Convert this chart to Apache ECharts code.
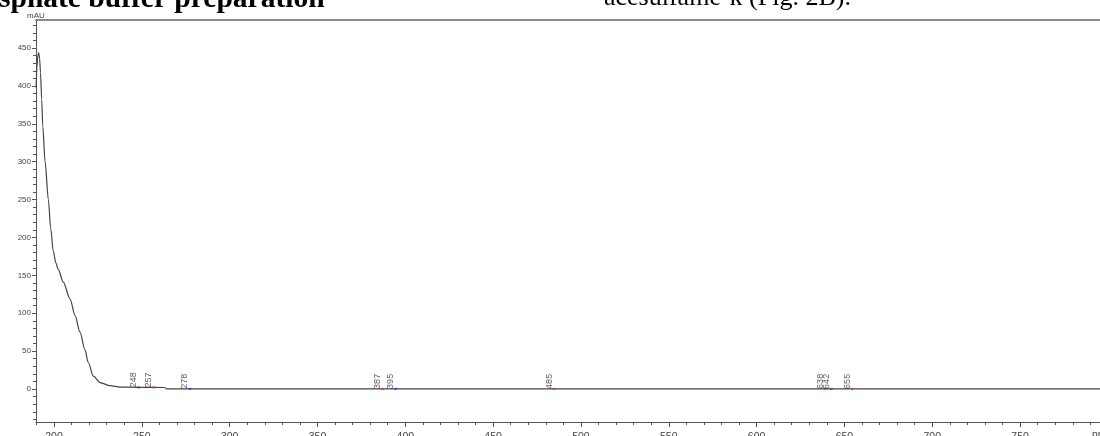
<!DOCTYPE html>
<html>
<head>
<meta charset="utf-8">
<script src="https://cdn.jsdelivr.net/npm/echarts@6/dist/echarts.min.js"></script>
<style>html,body{margin:0;padding:0;background:#fff}#c{width:1100px;height:436px}</style>
</head>
<body>
<div id="c"></div>
<script>
// Spectrum readings (nm, mAU)
const wavelengths = [189.8, 190.3, 190.8, 191.3, 191.8, 192.3, 193.0, 193.6, 194.9, 196.8, 198.1, 199.6, 201.0, 202.4, 205.3, 209.1, 212.0, 214.8, 217.6, 219.5, 222.4, 226.2, 231.9, 237.6, 249.0, 263.0, 264.0, 795.5];
const absorbance  = [398,   425,   440,   444,   436,   418,   382,   347,   300,   250,   212,   182,   167,   158,   141,   119,   97,    75,    52,    35,    17,    8.5,   4.4,   2.6,   2.2,   2.0,   0.3,   0.2];
// Peak markers
const peakWl    = [248.2, 256.9, 277.4, 386.9, 394.5, 484.7, 639.0, 642.5, 654.5];
const peakText  = ['248', '257', '278', '387', '395', '485', '638', '642', '655'];
const peakAbs   = [2.2, 2.1, 0.3, 0.2, 0.2, 0.2, 0.2, 0.2, 0.2];
const peakKind  = ['b', 'r', 'b', 'r', 'b', 'r', 'r', 'b', 'r'];
// Axis ticks
const xMajor = [200, 250, 300, 350, 400, 450, 500, 550, 600, 650, 700, 750];
const xMinor = [190, 200, 210, 220, 230, 240, 250, 260, 270, 280, 290, 300, 310, 320, 330, 340, 350, 360, 370, 380, 390, 400, 410, 420, 430, 440, 450, 460, 470, 480, 490, 500, 510, 520, 530, 540, 550, 560, 570, 580, 590, 600, 610, 620, 630, 640, 650, 660, 670, 680, 690, 700, 710, 720, 730, 740, 750, 760, 770, 780, 790];
const yMajor = [0, 50, 100, 150, 200, 250, 300, 350, 400, 450];
const yMinor = [-40, -30, -20, -10, 0, 10, 20, 30, 40, 50, 60, 70, 80, 90, 100, 110, 120, 130, 140, 150, 160, 170, 180, 190, 200, 210, 220, 230, 240, 250, 260, 270, 280, 290, 300, 310, 320, 330, 340, 350, 360, 370, 380, 390, 400, 410, 420, 430, 440, 450, 460, 470, 480];
const xRange = [189.75, 795.5];
const yRange = [-43.5, 487];

const kindColor = { r: '#e23030', b: '#3040e0' };
const axisColor = '#555';
const font = '"Liberation Sans", Arial, sans-serif';
const serif = '"Liberation Serif", "Times New Roman", serif';

const chart = echarts.init(document.getElementById('c'), null, { renderer: 'canvas' });
chart.setOption({
  animation: false,
  backgroundColor: '#fff',
  grid: { left: 36, right: 0, top: 20, bottom: 14, containLabel: false, outerBoundsMode: 'none' },
  xAxis: [
    { type: 'value', min: xRange[0], max: xRange[1], position: 'bottom',
      axisLine: { show: true, onZero: false, lineStyle: { color: axisColor, width: 1 } },
      axisTick: { show: true, customValues: xMajor, length: 5, lineStyle: { color: axisColor } },
      axisLabel: { show: true, customValues: xMajor, fontSize: 10.5, margin: 10, color: '#444', fontFamily: font },
      splitLine: { show: false } },
    { type: 'value', min: xRange[0], max: xRange[1], position: 'bottom',
      axisLine: { show: false, onZero: false },
      axisTick: { show: true, customValues: xMinor, length: 3, lineStyle: { color: axisColor } },
      axisLabel: { show: false }, splitLine: { show: false } },
    { type: 'value', min: xRange[0], max: xRange[1], position: 'top',
      axisLine: { show: true, onZero: false, lineStyle: { color: '#666', width: 1.5 } },
      axisTick: { show: false }, axisLabel: { show: false }, splitLine: { show: false } }
  ],
  yAxis: [
    { type: 'value', min: yRange[0], max: yRange[1], position: 'left',
      name: 'mAU', nameLocation: 'end', nameGap: 0,
      nameTextStyle: { fontSize: 8, color: '#444', fontFamily: font, align: 'center' },
      axisLine: { show: true, onZero: false, lineStyle: { color: axisColor, width: 1 } },
      axisTick: { show: true, customValues: yMajor, length: 4, lineStyle: { color: axisColor } },
      axisLabel: { show: true, customValues: yMajor, fontSize: 8, margin: 5, color: '#444', fontFamily: font },
      splitLine: { show: false } },
    { type: 'value', min: yRange[0], max: yRange[1], position: 'left',
      axisLine: { show: false, onZero: false },
      axisTick: { show: true, customValues: yMinor, length: 3, lineStyle: { color: axisColor } },
      axisLabel: { show: false }, splitLine: { show: false } }
  ],
  series: [
    { type: 'line', xAxisIndex: 0, yAxisIndex: 0, symbol: 'none',
      smooth: 0.3, smoothMonotone: 'x',
      lineStyle: { color: '#444', width: 1.2 },
      data: wavelengths.map((w, i) => [w, absorbance[i]]) },
    { type: 'scatter', xAxisIndex: 0, yAxisIndex: 0, symbol: 'rect', symbolSize: [3, 2], z: 3,
      data: peakWl.map((w, i) => ({ value: [w, peakAbs[i]], itemStyle: { color: kindColor[peakKind[i]] },
        label: { formatter: peakText[i] } })),
      label: { show: true, position: 'top', rotate: 90, align: 'left', verticalAlign: 'middle',
        distance: 2, offset: [-3, -5], fontSize: 9, color: '#333', fontFamily: font }
    }
  ],
  graphic: [
    { type: 'text', left: -1, top: -16, style: { text: 'sphate buffer preparation', fontSize: 29.5, fontWeight: 'bold', fontFamily: serif, fill: '#000' } },
    { type: 'text', left: 604, top: -15, style: { text: 'acesulfame-k (Fig. 2B).', fontSize: 26, fontFamily: serif, fill: '#000' } },
    { type: 'text', left: 1092, top: 430, style: { text: 'nm', fontSize: 10.5, fontFamily: font, fill: '#444' } }
  ]
});
</script>
</body>
</html>
